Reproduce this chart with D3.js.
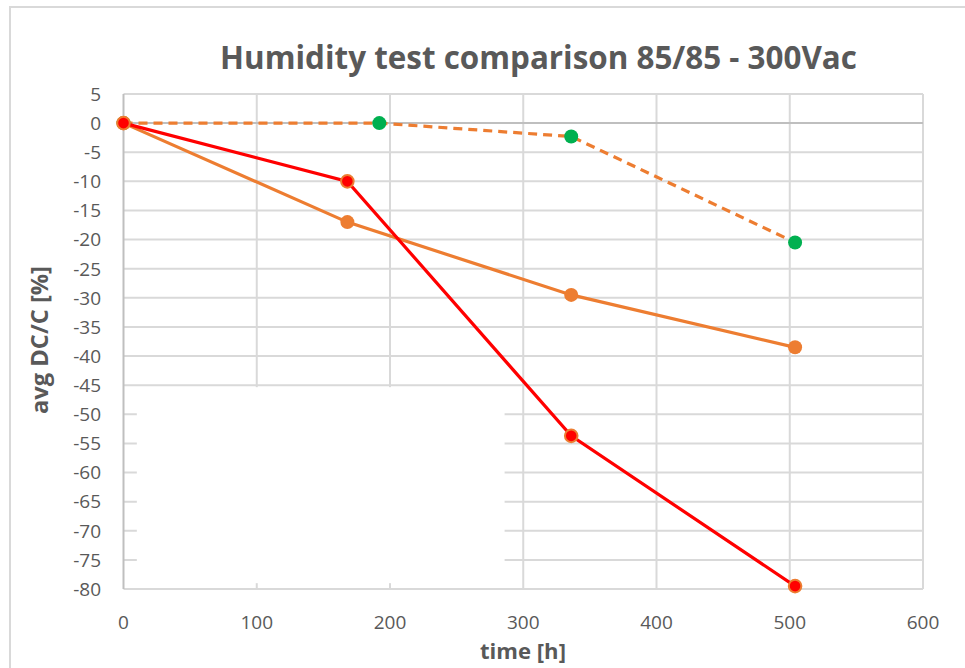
<!DOCTYPE html>
<html>
<head>
<meta charset="utf-8">
<script src="https://cdn.jsdelivr.net/npm/d3@7"></script>
<style>
  html, body { margin: 0; padding: 0; background: #fff; }
  svg { display: block; }
  text { font-family: "Open Sans", "Liberation Sans", sans-serif; fill: #595959; }
</style>
</head>
<body>
<svg id="chart" width="965" height="668"></svg>
<script>
// ---- data ----
const titleText = "Humidity test comparison 85/85 - 300Vac";
const xLabel = "time [h]";
const yLabel = "avg DC/C [%]";
const xTicks = [0, 100, 200, 300, 400, 500, 600];
const yTicks = [5, 0, -5, -10, -15, -20, -25, -30, -35, -40, -45, -50, -55, -60, -65, -70, -75, -80];

const timesA = [0, 168, 336, 504];
const redValues = [0, -10, -53.7, -79.5];
const orangeValues = [0, -17, -29.5, -38.5];
const timesB = [0, 192, 336, 504];
const greenValues = [0, 0, -2.3, -20.5];

// ---- layout ----
const svg = d3.select("#chart");
const W = 965, H = 668;
const x = d3.scaleLinear().domain([0, 600]).range([123.5, 923]);
const y = d3.scaleLinear().domain([-80, 5]).range([589, 94]);

// outer border
svg.append("rect").attr("x", 10).attr("y", 7).attr("width", W).attr("height", H)
  .attr("fill", "#fff").attr("stroke", "#d9d9d9").attr("stroke-width", 2);

// gridlines
const grid = svg.append("g");
grid.selectAll("line.h").data(yTicks).join("line")
  .attr("x1", x(0)).attr("x2", x(600))
  .attr("y1", d => y(d)).attr("y2", d => y(d))
  .attr("stroke", d => d === 0 ? "#bfbfbf" : "#d9d9d9").attr("stroke-width", 2);
grid.selectAll("line.v").data(xTicks).join("line")
  .attr("x1", d => x(d)).attr("x2", d => x(d))
  .attr("y1", y(5)).attr("y2", y(-80))
  .attr("stroke", d => d === 0 ? "#bfbfbf" : "#d9d9d9").attr("stroke-width", 2);
svg.append("line").attr("x1", x(0)).attr("x2", x(600)).attr("y1", y(0)).attr("y2", y(0))
  .attr("stroke", "#bfbfbf").attr("stroke-width", 2);

// blank (legend) box covering part of the grid
svg.append("rect")
  .attr("x", x(10)).attr("y", y(-45) + 2)
  .attr("width", x(286) - x(10)).attr("height", y(-79) - y(-45) - 2)
  .attr("fill", "#fff");

// tick labels
svg.append("g").selectAll("text").data(yTicks).join("text")
  .attr("x", 101).attr("y", d => y(d)).attr("dy", "0.36em")
  .attr("text-anchor", "end").style("font-size", "19px").text(d => d);
svg.append("g").selectAll("text").data(xTicks).join("text")
  .attr("x", d => x(d)).attr("y", 629)
  .attr("text-anchor", "middle").style("font-size", "19px").text(d => d);

// titles
function fit(sel, target) {
  const w = sel.node().getComputedTextLength();
  const fs = parseFloat(sel.style("font-size"));
  sel.style("font-size", (fs * target / w) + "px");
}
const t = svg.append("text").attr("x", 538.5).attr("y", 69).attr("text-anchor", "middle")
  .style("font-size", "28px").style("font-weight", "bold").text(titleText);
fit(t, 637);
const xl = svg.append("text").attr("x", 523).attr("y", 659).attr("text-anchor", "middle")
  .style("font-size", "20px").style("font-weight", "bold").text(xLabel);
fit(xl, 86);
const yl = svg.append("text").attr("transform", "translate(48,340) rotate(-90)")
  .attr("text-anchor", "middle")
  .style("font-size", "20px").style("font-weight", "bold").text(yLabel);
fit(yl, 148);

// lines
const line = d3.line().x(d => x(d[0])).y(d => y(d[1]));
const greenPts = timesB.map((t, i) => [t, greenValues[i]]);
const orangePts = timesA.map((t, i) => [t, orangeValues[i]]);
const redPts = timesA.map((t, i) => [t, redValues[i]]);

svg.append("path").datum(greenPts).attr("d", line).attr("fill", "none")
  .attr("stroke", "#ED7D31").attr("stroke-width", 3.2).attr("stroke-dasharray", "9,6");
svg.append("g").selectAll("circle").data(greenPts).join("circle")
  .attr("cx", d => x(d[0])).attr("cy", d => y(d[1])).attr("r", 7)
  .attr("fill", "#00B050");

svg.append("path").datum(orangePts).attr("d", line).attr("fill", "none")
  .attr("stroke", "#ED7D31").attr("stroke-width", 3.2);
svg.append("g").selectAll("circle").data(orangePts).join("circle")
  .attr("cx", d => x(d[0])).attr("cy", d => y(d[1])).attr("r", 7)
  .attr("fill", "#ED7D31");

svg.append("path").datum(redPts).attr("d", line).attr("fill", "none")
  .attr("stroke", "#FF0000").attr("stroke-width", 3.2);
svg.append("g").selectAll("circle").data(redPts).join("circle")
  .attr("cx", d => x(d[0])).attr("cy", d => y(d[1])).attr("r", 6.3)
  .attr("fill", "#FF0000").attr("stroke", "#ED7D31").attr("stroke-width", 2);
</script>
</body>
</html>
